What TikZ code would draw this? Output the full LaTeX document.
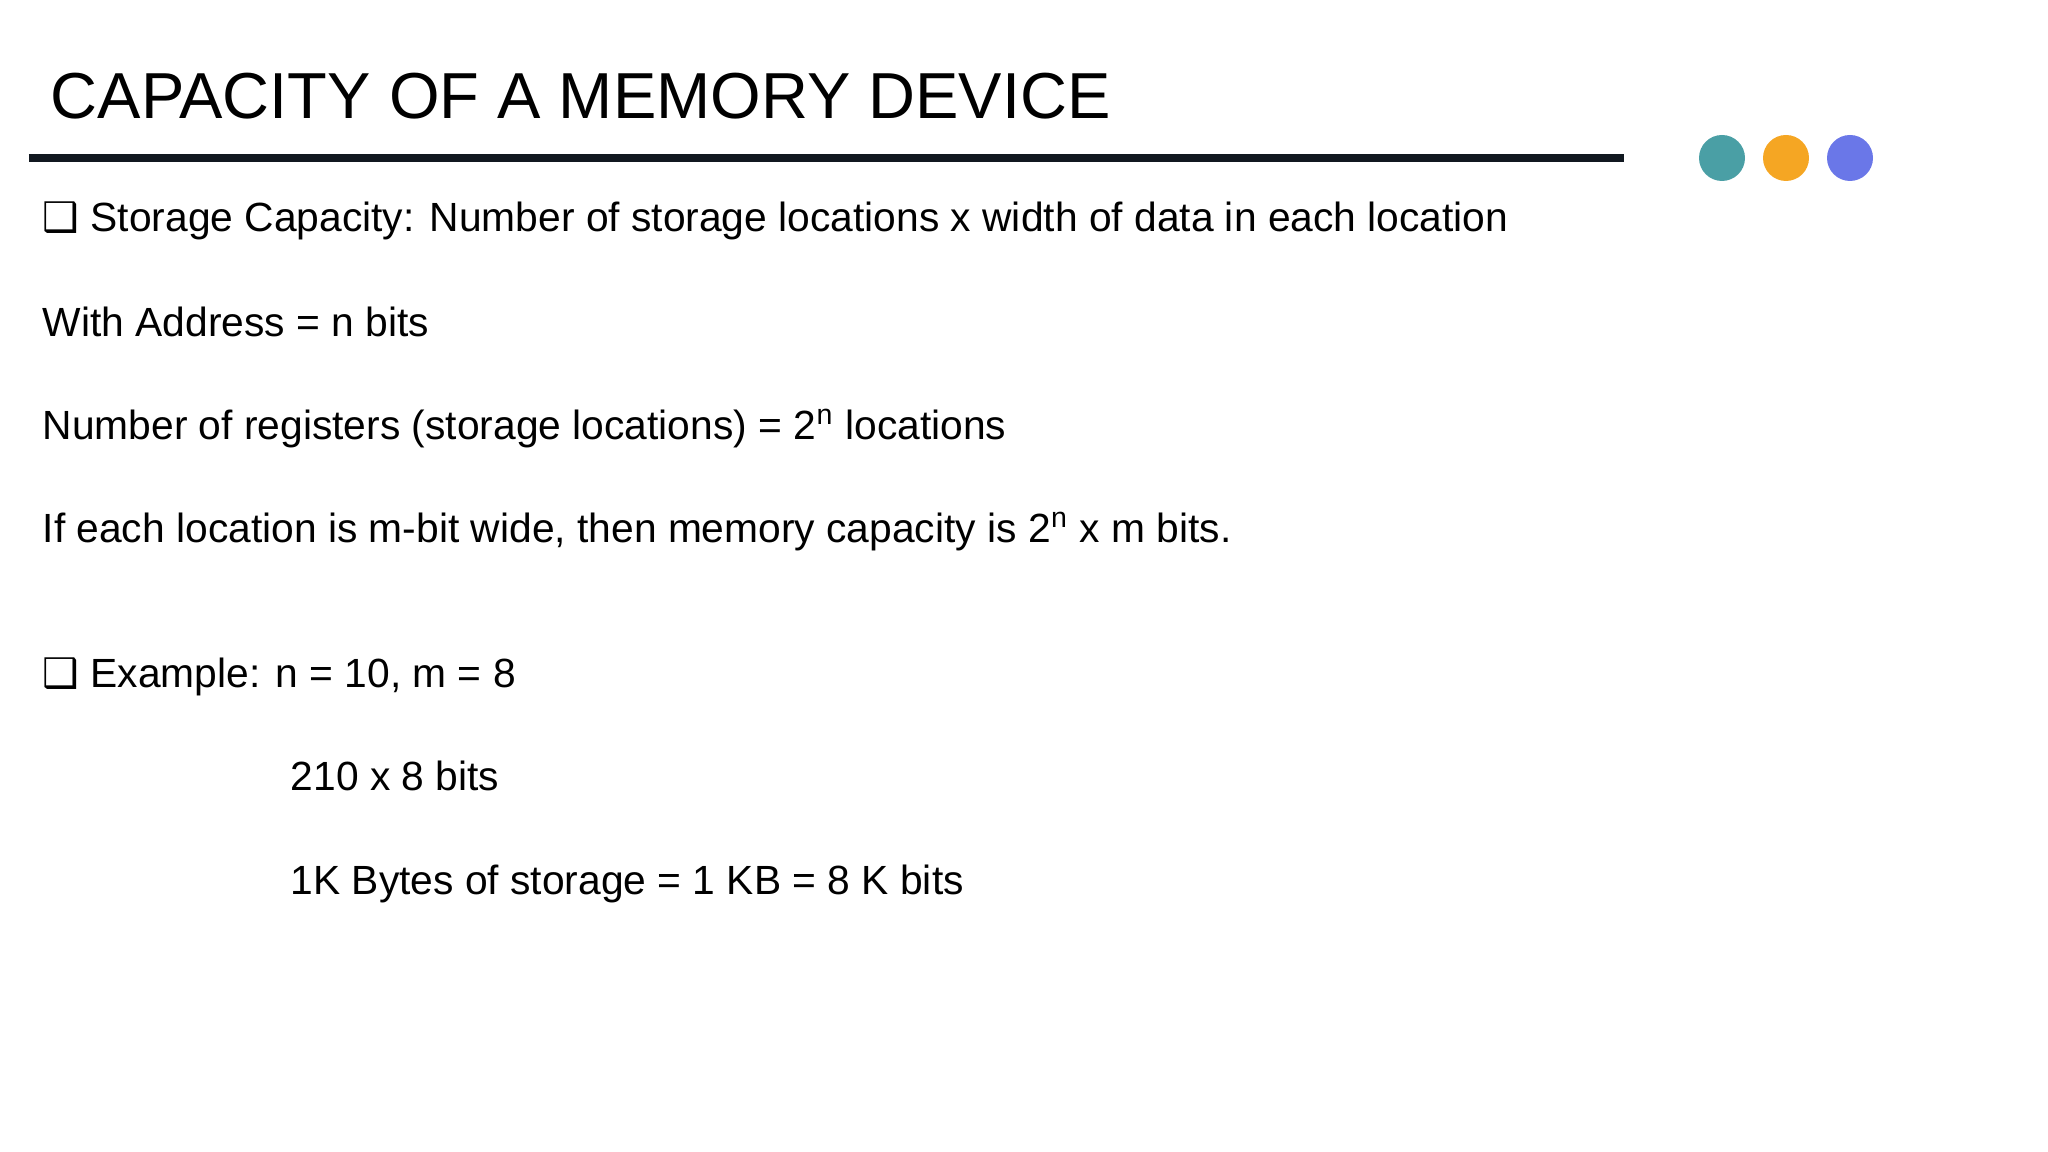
\documentclass[tikz,border=0pt]{standalone}
\usepackage{fontspec}
\setmainfont{Liberation Sans}
\newfontfamily\dejavu{DejaVu Sans}
\definecolor{cteal}{HTML}{4A9FA5}
\definecolor{corange}{HTML}{F5A623}
\definecolor{cblue}{HTML}{6A77E8}
\definecolor{cline}{HTML}{111820}
\begin{document}
\begin{tikzpicture}[x=1cm,y=1cm,
  body/.style={anchor=base west,inner sep=0pt,font=\fontsize{11.6pt}{14pt}\selectfont},
  dot/.style={circle,inner sep=0pt,minimum size=0.46cm}]
\useasboundingbox (0,0) rectangle (20.48,11.52);
\node[anchor=base west,inner sep=0pt,font=\fontsize{18.5pt}{22pt}\selectfont] (title) at (0.50,11.52-1.19) {CAPACITY OF A MEMORY DEVICE};
\coordinate (l1) at (0.29,11.52-1.58);
\coordinate (l2) at (16.24,11.52-1.58);
\draw[cline,line width=2.2pt] (l1) -- (l2);
\node[dot,fill=cteal] (d1) at (17.22,11.52-1.58) {};
\node[dot,fill=corange] (d2) at (17.86,11.52-1.58) {};
\node[dot,fill=cblue] (d3) at (18.50,11.52-1.58) {};
\node[body] (t1) at (0.42,11.52-2.32) {{\dejavu ❑} Storage Capacity: Number of storage locations x width of data in each location};
\node[body] (t2) at (0.42,11.52-3.37) {With Address = n bits};
\node[body] (t3) at (0.42,11.52-4.40) {Number of registers (storage locations) = 2\textsuperscript{n} locations};
\node[body] (t4) at (0.42,11.52-5.43) {If each location is m-bit wide, then memory capacity is 2\textsuperscript{n} x m bits.};
\node[body] (t5) at (0.42,11.52-6.88) {{\dejavu ❑} Example: n = 10, m = 8};
\node[body] (t6) at (2.90,11.52-7.91) {210 x 8 bits};
\node[body] (t7) at (2.90,11.52-8.95) {1K Bytes of storage = 1 KB = 8 K bits};
\end{tikzpicture}
\end{document}
